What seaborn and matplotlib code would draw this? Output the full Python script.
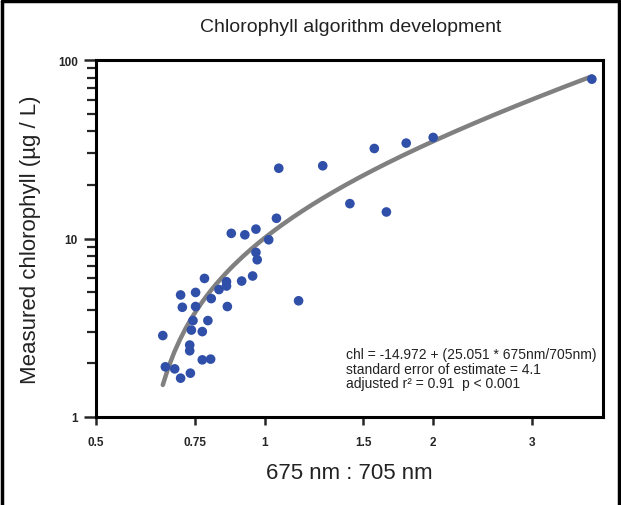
import numpy as np
import pandas as pd
import matplotlib
matplotlib.use("Agg")
import matplotlib.pyplot as plt
from matplotlib.lines import Line2D
from matplotlib.ticker import FixedLocator, NullFormatter, NullLocator
import seaborn as sns

# 675/705 nm reflectance ratio and measured chlorophyll (ug/L)
ratio = [3.84, 2.00, 1.79, 1.57, 1.27, 1.42, 1.65, 1.06, 1.05, 0.872,
         0.922, 0.965, 1.017, 0.965, 0.970, 0.781, 0.855, 0.855, 0.829, 0.910,
         0.952, 0.708, 0.753, 0.803, 0.713, 0.753, 0.858, 1.15, 0.745, 0.792,
         0.740, 0.774, 0.658, 0.735, 0.735, 0.774, 0.801, 0.665, 0.691, 0.708,
         0.737]
chl = [78.3, 36.9, 34.3, 32.0, 25.6, 15.7, 14.1, 24.8, 13.0, 10.7,
       10.5, 11.3, 9.85, 8.37, 7.61, 5.98, 5.73, 5.42, 5.18, 5.78,
       6.17, 4.83, 4.99, 4.61, 4.12, 4.16, 4.16, 4.48, 3.47, 3.47,
       3.07, 3.01, 2.86, 2.53, 2.35, 2.09, 2.11, 1.91, 1.86, 1.65,
       1.76]

# regression printed on the chart
intercept = -14.972
slope = 25.051
fit_start, fit_end = 0.658, 3.84

x_ticks = [0.5, 0.75, 1, 1.5, 2, 3]
x_labels = ["0.5", "0.75", "1", "1.5", "2", "3"]
y_ticks = [1, 10, 100]
y_labels = ["1", "10", "100"]

df = pd.DataFrame({"ratio": ratio, "chl": chl})
fx = np.linspace(fit_start, fit_end, 200)
fit = pd.DataFrame({"ratio": fx, "chl": intercept + slope * fx})

sns.set_style("ticks")
plt.rcParams["font.family"] = ["Liberation Sans", "DejaVu Sans"]

fig = plt.figure(figsize=(6.21, 5.06), dpi=100)
ax = fig.add_axes([0.1546, 0.174, 0.971 - 0.1546, 0.879 - 0.174])

sns.lineplot(data=fit, x="ratio", y="chl", ax=ax, color="#808080", lw=3.2,
             zorder=2)
sns.scatterplot(data=df, x="ratio", y="chl", ax=ax, color="#2f4fa8", s=48,
                edgecolor="none", zorder=3)

ax.set_xscale("log")
ax.set_yscale("log")
ax.set_xlim(0.5, 4.02)
ax.set_ylim(1, 100)

ax.xaxis.set_major_locator(FixedLocator(x_ticks))
ax.set_xticklabels(x_labels)
ax.xaxis.set_minor_locator(NullLocator())
ax.yaxis.set_major_locator(FixedLocator(y_ticks))
ax.set_yticklabels(y_labels)
ax.yaxis.set_minor_locator(FixedLocator([2, 3, 4, 5, 6, 7, 8, 9,
                                         20, 30, 40, 50, 60, 70, 80, 90]))
ax.yaxis.set_minor_formatter(NullFormatter())

for s in ax.spines.values():
    s.set_visible(True)
    s.set_linewidth(2.2)
    s.set_color("black")

ax.tick_params(axis="y", which="major", length=9, width=1.8,
               labelsize=8.5, pad=4)
ax.tick_params(axis="y", which="minor", length=6.5, width=1.6)
ax.tick_params(axis="x", which="major", length=6, width=1.8,
               labelsize=8.5, pad=8)
for lab in ax.get_xticklabels() + ax.get_yticklabels():
    lab.set_fontweight("bold")

ax.set_xlabel("675 nm : 705 nm", fontsize=16, color="#222222")
ax.xaxis.set_label_coords(0.5, -0.125)
ax.set_ylabel("Measured chlorophyll (\u00b5g / L)", fontsize=16,
              color="#222222")
ax.yaxis.set_label_coords(-0.108, 0.5)
fig.text(0.565, 0.945, "Chlorophyll algorithm development", ha="center",
         va="center", fontsize=14, color="#222222")

ax.text(0.493, 0.195,
        "chl = -14.972 + (25.051 * 675nm/705nm)\n"
        "standard error of estimate = 4.1\n"
        "adjusted r\u00b2 = 0.91  p < 0.001",
        transform=ax.transAxes, fontsize=10, va="top", ha="left",
        linespacing=1.05, color="#222222")

# frame round the whole figure (left, top, right)
for xs, ys in [([0.004, 0.004], [0.0, 0.996]),
               ([0.004, 0.996], [0.996, 0.996]),
               ([0.996, 0.996], [0.996, 0.0])]:
    fig.add_artist(Line2D(xs, ys, transform=fig.transFigure, lw=2.5,
                          color="black"))

fig.savefig("out.png", dpi=100)
